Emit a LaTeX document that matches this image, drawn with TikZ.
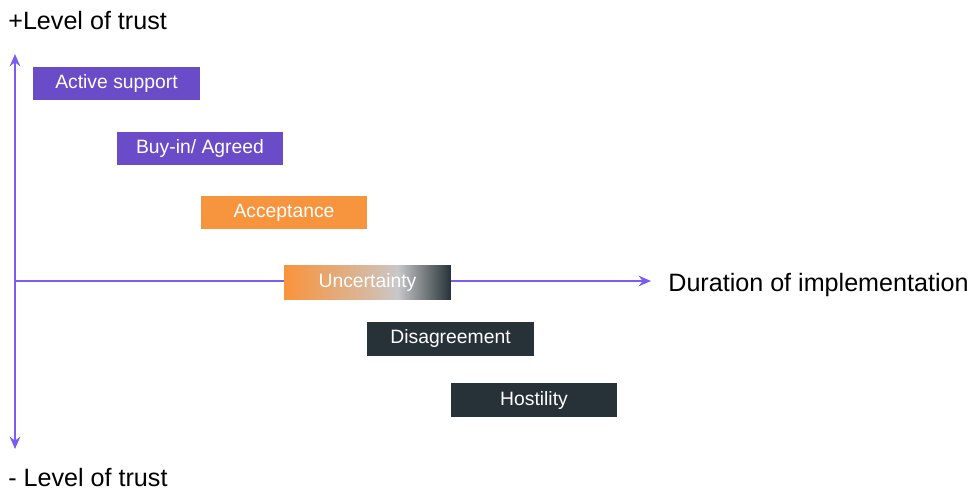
\documentclass[tikz,border=0pt]{standalone}
\usepackage{fontspec}
\setmainfont{Liberation Sans}
\usetikzlibrary{arrows.meta}
\definecolor{trustpurple}{HTML}{6A4BC8}
\definecolor{axispurple}{HTML}{7B5CF0}
\definecolor{trustorange}{HTML}{F7953F}
\definecolor{trustsand}{HTML}{D9B79C}
\definecolor{trustdark}{HTML}{263238}
\definecolor{trustgrey}{HTML}{C8C8C9}
\pgfdeclarehorizontalshading{uncertshade}{100bp}{color(0bp)=(trustorange); color(26bp)=(trustorange); color(50bp)=(trustsand); color(59bp)=(trustgrey); color(75bp)=(trustdark); color(100bp)=(trustdark)}

\begin{document}
\begin{tikzpicture}[x=0.02cm, y=-0.02cm,
  stage/.style={minimum width=3.34cm, minimum height=0.68cm, inner sep=0pt, text=white, font=\fontsize{11}{13}\selectfont},
  trustaxis/.style={axispurple, line width=1.1pt, -{Stealth[length=7pt,width=6pt]}},
  axislabel/.style={anchor=west, inner sep=0pt, font=\fontsize{14.3}{17}\selectfont}]
  \useasboundingbox (0,0) rectangle (970,490);

  \coordinate (origin) at (15,281);
  \coordinate (ytop) at (15,54);
  \coordinate (ybot) at (15,449);
  \coordinate (xend) at (651,281);

  \draw[trustaxis] (origin) -- (ytop); % + trust
  \draw[trustaxis] (origin) -- (ybot); % - trust
  \draw[trustaxis] (origin) -- (xend); % time

  \node[axislabel] (plus) at (8,21) {+Level of trust};
  \node[axislabel] (minus) at (8,478) {- Level of trust};
  \node[axislabel] (duration) at (668,285) {Duration of implementation};

  \node[stage, fill=trustpurple] (active) at (116.5,83.5) {Active support};
  \node[stage, fill=trustpurple] (buyin) at (200,148.5) {Buy-in/ Agreed};
  \node[stage, fill=trustorange] (accept) at (284,212.5) {Acceptance};
  \node[stage, shade, shading=uncertshade] (uncert) at (367.5,282) {Uncertainty};
  \node[stage, fill=trustdark] (disagree) at (450.5,338.5) {Disagreement};
  \node[stage, fill=trustdark] (hostile) at (534,400) {Hostility};
\end{tikzpicture}
\end{document}
